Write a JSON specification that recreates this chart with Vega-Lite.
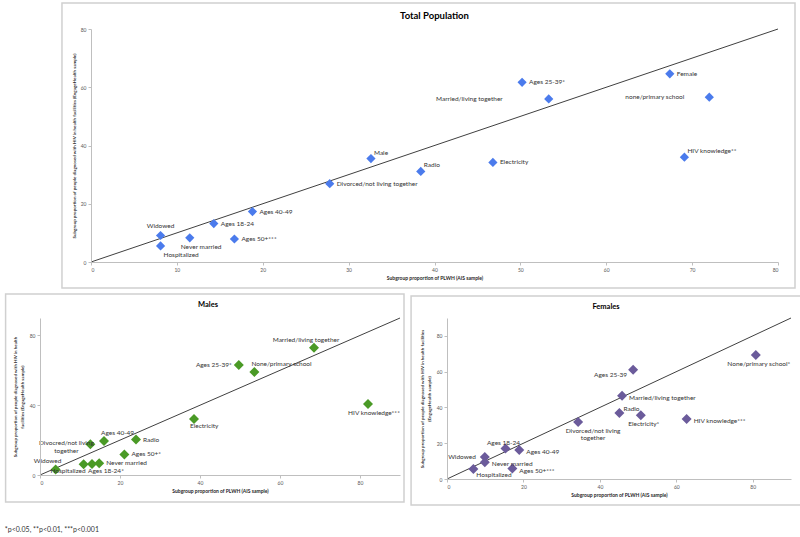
{
  "$schema": "https://vega.github.io/schema/vega-lite/v6.json",
  "background": "white",
  "padding": {"left": 4, "top": 2, "right": 0, "bottom": 0},
  "title": {"text": "*p<0.05, **p<0.01, ***p<0.001", "orient": "bottom", "anchor": "start", "frame": "bounds", "fontSize": 7, "fontWeight": "normal", "font": "Lato", "color": "#333333", "offset": 20},
  "datasets": {
    "total": [
      {"label": "Widowed", "x": 8.1, "y": 9.1, "pos": "a"},
      {"label": "Hospitalized", "x": 8.1, "y": 5.5, "pos": "br"},
      {"label": "Never married", "x": 11.5, "y": 8.3, "pos": "b"},
      {"label": "Ages 18-24", "x": 14.3, "y": 13.2, "pos": "r"},
      {"label": "Ages 50+***", "x": 16.7, "y": 7.9, "pos": "r"},
      {"label": "Ages 40-49", "x": 18.8, "y": 17.3, "pos": "r"},
      {"label": "Divorced/not living together", "x": 27.8, "y": 26.9, "pos": "r"},
      {"label": "Male", "x": 32.6, "y": 35.5, "pos": "ar"},
      {"label": "Radio", "x": 38.4, "y": 31.1, "pos": "ar"},
      {"label": "Electricity", "x": 46.8, "y": 34.2, "pos": "r"},
      {"label": "Ages 25-39*", "x": 50.2, "y": 61.7, "pos": "r"},
      {"label": "Married/living together", "x": 53.3, "y": 56.0, "pos": "lfar"},
      {"label": "Female", "x": 67.4, "y": 64.6, "pos": "r"},
      {"label": "HIV knowledge**", "x": 69.1, "y": 36.0, "pos": "ar"},
      {"label": "none/primary school", "x": 72.0, "y": 56.6, "pos": "lmid"}
    ],
    "males": [
      {"label": "Widowed", "x": 3.9, "y": 3.2, "pos": "a"},
      {"label": "Hospitalized", "x": 10.9, "y": 6.1, "pos": "bl"},
      {"label": "Ages 18-24*", "x": 13.0, "y": 6.3, "pos": "br"},
      {"label": "Never married", "x": 14.8, "y": 6.7, "pos": "r"},
      {"label": "Divocred/not living\ntogether", "x": 12.6, "y": 17.6, "pos": "alc"},
      {"label": "Ages 40-49", "x": 16.0, "y": 19.5, "pos": "ar"},
      {"label": "Radio", "x": 24.0, "y": 20.3, "pos": "r"},
      {"label": "Ages 50+*", "x": 21.1, "y": 11.8, "pos": "r"},
      {"label": "Electricity", "x": 38.5, "y": 32.1, "pos": "br"},
      {"label": "Ages 25-39*", "x": 49.7, "y": 63.1, "pos": "l"},
      {"label": "None/primary school", "x": 53.6, "y": 59.0, "pos": "ar"},
      {"label": "Married/living together", "x": 68.5, "y": 73.0, "pos": "a"},
      {"label": "HIV knowledge***", "x": 82.0, "y": 40.7, "pos": "b"}
    ],
    "females": [
      {"label": "Hospitalized", "x": 6.9, "y": 5.6, "pos": "br"},
      {"label": "Widowed", "x": 9.9, "y": 12.3, "pos": "l"},
      {"label": "Never married", "x": 9.9, "y": 9.3, "pos": "r"},
      {"label": "Ages 18-24", "x": 15.3, "y": 17.0, "pos": "a"},
      {"label": "Ages 40-49", "x": 18.9, "y": 16.2, "pos": "r"},
      {"label": "Ages 50+***", "x": 17.1, "y": 5.8, "pos": "r"},
      {"label": "Divorced/not living\ntogether", "x": 34.3, "y": 31.9, "pos": "bc"},
      {"label": "Radio", "x": 45.1, "y": 36.9, "pos": "ar"},
      {"label": "Married/living together", "x": 45.8, "y": 46.6, "pos": "r"},
      {"label": "Electricity*", "x": 50.7, "y": 35.6, "pos": "b"},
      {"label": "Ages 25-39", "x": 48.7, "y": 61.1, "pos": "bl"},
      {"label": "HIV knowledge***", "x": 62.7, "y": 33.5, "pos": "r"},
      {"label": "None/primary school*", "x": 80.8, "y": 69.3, "pos": "b"}
    ]
  },
  "spacing": 4,
  "vconcat": [
    {
      "spacing": 0,
      "align": "none",
      "hconcat": [
        {"width": 21, "height": 1, "data": {"values": [{"k": 1}]}, "mark": {"type": "point", "opacity": 0}},
        {
          "width": 687, "height": 233,
          "data": {"name": "total"},
          "layer": [
            {"data": {"values": [{"k": 1}]}, "mark": {"type": "rect", "fill": "white", "stroke": "#d0d0d0", "strokeWidth": 1.5},
             "encoding": {
               "x": {"datum": -3.38, "type": "quantitative", "title": "Subgroup proportion of PLWH (AIS sample)", "scale": {"domain": [0, 80], "nice": false}, "axis": {"zindex": 2, "values": [0, 10, 20, 30, 40, 50, 60, 70, 80]}},
               "x2": {"datum": 81.98},
               "y": {"datum": 88.93, "type": "quantitative", "title": "Subgroup proportion of people diagnosed with HIV in health facilities (EngageHealth sample)", "scale": {"domain": [0, 80], "nice": false}, "axis": {"zindex": 2, "values": [0, 10, 20, 30, 40, 50, 60, 70, 80], "titleFontSize": 4.5, "titlePadding": 4}},
               "y2": {"datum": -8.93}}},
            {"data": {"values": [{"k": 1}]}, "mark": {"type": "text", "text": "Total Population", "fontWeight": "bold", "fontSize": 9.5, "color": "#000000", "align": "center", "baseline": "middle"},
             "encoding": {"x": {"datum": 40, "type": "quantitative"}, "y": {"datum": 84.5, "type": "quantitative"}}},
            {"data": {"values": [{"k": 1}]}, "mark": {"type": "rule", "color": "#404040", "strokeWidth": 1},
             "encoding": {"x": {"datum": 0, "type": "quantitative"}, "y": {"datum": 0, "type": "quantitative"}, "x2": {"datum": 80}, "y2": {"datum": 80}}},
            {"mark": {"type": "point", "shape": "diamond", "filled": true, "size": 85, "color": "#4b7bec", "opacity": 1},
             "encoding": {
               "x": {"field": "x", "type": "quantitative", "title": "Subgroup proportion of PLWH (AIS sample)", "scale": {"domain": [0, 80], "nice": false}, "axis": {"zindex": 2, "values": [0, 10, 20, 30, 40, 50, 60, 70, 80]}},
               "y": {"field": "y", "type": "quantitative", "title": "Subgroup proportion of people diagnosed with HIV in health facilities (EngageHealth sample)", "scale": {"domain": [0, 80], "nice": false}, "axis": {"zindex": 2, "values": [0, 10, 20, 30, 40, 50, 60, 70, 80], "titleFontSize": 4.5, "titlePadding": 4}}}},
            {"transform": [{"filter": "datum.pos === 'r'"}], "mark": {"type": "text", "align": "left", "baseline": "middle", "dx": 7},
             "encoding": {"x": {"field": "x", "type": "quantitative", "title": "Subgroup proportion of PLWH (AIS sample)"}, "y": {"field": "y", "type": "quantitative", "title": "Subgroup proportion of people diagnosed with HIV in health facilities (EngageHealth sample)"}, "text": {"field": "label"}}},
            {"transform": [{"filter": "datum.pos === 'a'"}], "mark": {"type": "text", "align": "center", "baseline": "bottom", "dy": -6},
             "encoding": {"x": {"field": "x", "type": "quantitative", "title": "Subgroup proportion of PLWH (AIS sample)"}, "y": {"field": "y", "type": "quantitative", "title": "Subgroup proportion of people diagnosed with HIV in health facilities (EngageHealth sample)"}, "text": {"field": "label"}}},
            {"transform": [{"filter": "datum.pos === 'b'"}], "mark": {"type": "text", "align": "left", "baseline": "top", "dx": -9, "dy": 6},
             "encoding": {"x": {"field": "x", "type": "quantitative", "title": "Subgroup proportion of PLWH (AIS sample)"}, "y": {"field": "y", "type": "quantitative", "title": "Subgroup proportion of people diagnosed with HIV in health facilities (EngageHealth sample)"}, "text": {"field": "label"}}},
            {"transform": [{"filter": "datum.pos === 'ar'"}], "mark": {"type": "text", "align": "left", "baseline": "bottom", "dx": 3, "dy": -3},
             "encoding": {"x": {"field": "x", "type": "quantitative", "title": "Subgroup proportion of PLWH (AIS sample)"}, "y": {"field": "y", "type": "quantitative", "title": "Subgroup proportion of people diagnosed with HIV in health facilities (EngageHealth sample)"}, "text": {"field": "label"}}},
            {"transform": [{"filter": "datum.pos === 'br'"}], "mark": {"type": "text", "align": "left", "baseline": "top", "dx": 3, "dy": 6},
             "encoding": {"x": {"field": "x", "type": "quantitative", "title": "Subgroup proportion of PLWH (AIS sample)"}, "y": {"field": "y", "type": "quantitative", "title": "Subgroup proportion of people diagnosed with HIV in health facilities (EngageHealth sample)"}, "text": {"field": "label"}}},
            {"transform": [{"filter": "datum.pos === 'lfar'"}], "mark": {"type": "text", "align": "right", "baseline": "middle", "dx": -46},
             "encoding": {"x": {"field": "x", "type": "quantitative", "title": "Subgroup proportion of PLWH (AIS sample)"}, "y": {"field": "y", "type": "quantitative", "title": "Subgroup proportion of people diagnosed with HIV in health facilities (EngageHealth sample)"}, "text": {"field": "label"}}},
            {"transform": [{"filter": "datum.pos === 'lmid'"}], "mark": {"type": "text", "align": "right", "baseline": "middle", "dx": -25},
             "encoding": {"x": {"field": "x", "type": "quantitative", "title": "Subgroup proportion of PLWH (AIS sample)"}, "y": {"field": "y", "type": "quantitative", "title": "Subgroup proportion of people diagnosed with HIV in health facilities (EngageHealth sample)"}, "text": {"field": "label"}}}
          ]
        }
      ]
    },
    {
      "spacing": 5,
      "align": "none",
      "hconcat": [
        {
          "width": 360, "height": 157,
          "data": {"name": "males"},
          "layer": [
            {"data": {"values": [{"k": 1}]}, "mark": {"type": "rect", "fill": "white", "stroke": "#d0d0d0", "strokeWidth": 1.5},
             "encoding": {
               "x": {"datum": -8.6, "type": "quantitative", "title": "Subgroup proportion of PLWH (AIS sample)", "scale": {"domain": [0, 90], "nice": false}, "axis": {"zindex": 2, "values": [0, 10, 20, 30, 40, 50, 60, 70, 80, 90]}},
               "x2": {"datum": 91},
               "y": {"datum": 103.8, "type": "quantitative", "title": ["Subgroup proportion of people diagnosed with HIV in health", "facilities (EngageHealth sample)"], "scale": {"domain": [0, 90], "nice": false}, "axis": {"zindex": 2, "values": [0, 10, 20, 30, 40, 50, 60, 70, 80, 90], "titleFontSize": 4.5, "titlePadding": 5}},
               "y2": {"datum": -15.5}}},
            {"data": {"values": [{"k": 1}]}, "mark": {"type": "text", "text": "Males", "fontWeight": "bold", "fontSize": 7.5, "color": "#000000", "align": "center", "baseline": "middle"},
             "encoding": {"x": {"datum": 42, "type": "quantitative"}, "y": {"datum": 97.5, "type": "quantitative"}}},
            {"data": {"values": [{"k": 1}]}, "mark": {"type": "rule", "color": "#404040", "strokeWidth": 1},
             "encoding": {"x": {"datum": 0, "type": "quantitative"}, "y": {"datum": 0, "type": "quantitative"}, "x2": {"datum": 90}, "y2": {"datum": 90}}},
            {"mark": {"type": "point", "shape": "diamond", "filled": true, "size": 100, "color": "#4a9a26", "opacity": 1},
             "encoding": {
               "x": {"field": "x", "type": "quantitative", "title": "Subgroup proportion of PLWH (AIS sample)", "scale": {"domain": [0, 90], "nice": false}, "axis": {"zindex": 2, "values": [0, 10, 20, 30, 40, 50, 60, 70, 80, 90]}},
               "y": {"field": "y", "type": "quantitative", "title": ["Subgroup proportion of people diagnosed with HIV in health", "facilities (EngageHealth sample)"], "scale": {"domain": [0, 90], "nice": false}, "axis": {"zindex": 2, "values": [0, 10, 20, 30, 40, 50, 60, 70, 80, 90], "titleFontSize": 4.5, "titlePadding": 5}}}},
            {"transform": [{"filter": "datum.pos === 'r'"}], "mark": {"type": "text", "align": "left", "baseline": "middle", "dx": 7},
             "encoding": {"x": {"field": "x", "type": "quantitative", "title": "Subgroup proportion of PLWH (AIS sample)"}, "y": {"field": "y", "type": "quantitative", "title": ["Subgroup proportion of people diagnosed with HIV in health", "facilities (EngageHealth sample)"]}, "text": {"field": "label"}}},
            {"transform": [{"filter": "datum.pos === 'l'"}], "mark": {"type": "text", "align": "right", "baseline": "middle", "dx": -7},
             "encoding": {"x": {"field": "x", "type": "quantitative", "title": "Subgroup proportion of PLWH (AIS sample)"}, "y": {"field": "y", "type": "quantitative", "title": ["Subgroup proportion of people diagnosed with HIV in health", "facilities (EngageHealth sample)"]}, "text": {"field": "label"}}},
            {"transform": [{"filter": "datum.pos === 'a'"}], "mark": {"type": "text", "align": "center", "baseline": "bottom", "dx": -8, "dy": -5},
             "encoding": {"x": {"field": "x", "type": "quantitative", "title": "Subgroup proportion of PLWH (AIS sample)"}, "y": {"field": "y", "type": "quantitative", "title": ["Subgroup proportion of people diagnosed with HIV in health", "facilities (EngageHealth sample)"]}, "text": {"field": "label"}}},
            {"transform": [{"filter": "datum.pos === 'b'"}], "mark": {"type": "text", "align": "center", "baseline": "top", "dx": 6, "dy": 6},
             "encoding": {"x": {"field": "x", "type": "quantitative", "title": "Subgroup proportion of PLWH (AIS sample)"}, "y": {"field": "y", "type": "quantitative", "title": ["Subgroup proportion of people diagnosed with HIV in health", "facilities (EngageHealth sample)"]}, "text": {"field": "label"}}},
            {"transform": [{"filter": "datum.pos === 'ar'"}], "mark": {"type": "text", "align": "left", "baseline": "bottom", "dx": -3, "dy": -5},
             "encoding": {"x": {"field": "x", "type": "quantitative", "title": "Subgroup proportion of PLWH (AIS sample)"}, "y": {"field": "y", "type": "quantitative", "title": ["Subgroup proportion of people diagnosed with HIV in health", "facilities (EngageHealth sample)"]}, "text": {"field": "label"}}},
            {"transform": [{"filter": "datum.pos === 'br'"}], "mark": {"type": "text", "align": "left", "baseline": "top", "dx": -4, "dy": 4},
             "encoding": {"x": {"field": "x", "type": "quantitative", "title": "Subgroup proportion of PLWH (AIS sample)"}, "y": {"field": "y", "type": "quantitative", "title": ["Subgroup proportion of people diagnosed with HIV in health", "facilities (EngageHealth sample)"]}, "text": {"field": "label"}}},
            {"transform": [{"filter": "datum.pos === 'bl'"}], "mark": {"type": "text", "align": "right", "baseline": "top", "dx": 2, "dy": 4},
             "encoding": {"x": {"field": "x", "type": "quantitative", "title": "Subgroup proportion of PLWH (AIS sample)"}, "y": {"field": "y", "type": "quantitative", "title": ["Subgroup proportion of people diagnosed with HIV in health", "facilities (EngageHealth sample)"]}, "text": {"field": "label"}}},
            {"transform": [{"filter": "datum.pos === 'alc'"}], "mark": {"type": "text", "align": "center", "baseline": "bottom", "dx": -24, "dy": 2},
             "encoding": {"x": {"field": "x", "type": "quantitative", "title": "Subgroup proportion of PLWH (AIS sample)"}, "y": {"field": "y", "type": "quantitative", "title": ["Subgroup proportion of people diagnosed with HIV in health", "facilities (EngageHealth sample)"]}, "text": {"field": "label"}}}
          ]
        },
        {
          "width": 344, "height": 161,
          "data": {"name": "females"},
          "layer": [
            {"data": {"values": [{"k": 1}]}, "mark": {"type": "rect", "fill": "white", "stroke": "#d0d0d0", "strokeWidth": 1.5},
             "encoding": {
               "x": {"datum": -9.4, "type": "quantitative", "title": "Subgroup proportion of PLWH (AIS sample)", "scale": {"domain": [0, 90], "nice": false}, "axis": {"zindex": 2, "values": [0, 10, 20, 30, 40, 50, 60, 70, 80, 90]}},
               "x2": {"datum": 92.6},
               "y": {"datum": 102.3, "type": "quantitative", "title": ["Subgroup proportion of people diagnosed with HIV in health facilities", "(EngageHealth sample)"], "scale": {"domain": [0, 90], "nice": false}, "axis": {"zindex": 2, "values": [0, 10, 20, 30, 40, 50, 60, 70, 80, 90], "titleFontSize": 4.5, "titlePadding": 5}},
               "y2": {"datum": -14.5}}},
            {"data": {"values": [{"k": 1}]}, "mark": {"type": "text", "text": "Females", "fontWeight": "bold", "fontSize": 7.5, "color": "#000000", "align": "center", "baseline": "middle"},
             "encoding": {"x": {"datum": 41.6, "type": "quantitative"}, "y": {"datum": 96.1, "type": "quantitative"}}},
            {"data": {"values": [{"k": 1}]}, "mark": {"type": "rule", "color": "#404040", "strokeWidth": 1},
             "encoding": {"x": {"datum": 0, "type": "quantitative"}, "y": {"datum": 0, "type": "quantitative"}, "x2": {"datum": 90}, "y2": {"datum": 90}}},
            {"mark": {"type": "point", "shape": "diamond", "filled": true, "size": 100, "color": "#6b5b9b", "opacity": 1},
             "encoding": {
               "x": {"field": "x", "type": "quantitative", "title": "Subgroup proportion of PLWH (AIS sample)", "scale": {"domain": [0, 90], "nice": false}, "axis": {"zindex": 2, "values": [0, 10, 20, 30, 40, 50, 60, 70, 80, 90]}},
               "y": {"field": "y", "type": "quantitative", "title": ["Subgroup proportion of people diagnosed with HIV in health facilities", "(EngageHealth sample)"], "scale": {"domain": [0, 90], "nice": false}, "axis": {"zindex": 2, "values": [0, 10, 20, 30, 40, 50, 60, 70, 80, 90], "titleFontSize": 4.5, "titlePadding": 5}}}},
            {"transform": [{"filter": "datum.pos === 'r'"}], "mark": {"type": "text", "align": "left", "baseline": "middle", "dx": 7, "dy": 2},
             "encoding": {"x": {"field": "x", "type": "quantitative", "title": "Subgroup proportion of PLWH (AIS sample)"}, "y": {"field": "y", "type": "quantitative", "title": ["Subgroup proportion of people diagnosed with HIV in health facilities", "(EngageHealth sample)"]}, "text": {"field": "label"}}},
            {"transform": [{"filter": "datum.pos === 'l'"}], "mark": {"type": "text", "align": "right", "baseline": "middle", "dx": -9},
             "encoding": {"x": {"field": "x", "type": "quantitative", "title": "Subgroup proportion of PLWH (AIS sample)"}, "y": {"field": "y", "type": "quantitative", "title": ["Subgroup proportion of people diagnosed with HIV in health facilities", "(EngageHealth sample)"]}, "text": {"field": "label"}}},
            {"transform": [{"filter": "datum.pos === 'a'"}], "mark": {"type": "text", "align": "center", "baseline": "bottom", "dx": -2, "dy": -3},
             "encoding": {"x": {"field": "x", "type": "quantitative", "title": "Subgroup proportion of PLWH (AIS sample)"}, "y": {"field": "y", "type": "quantitative", "title": ["Subgroup proportion of people diagnosed with HIV in health facilities", "(EngageHealth sample)"]}, "text": {"field": "label"}}},
            {"transform": [{"filter": "datum.pos === 'b'"}], "mark": {"type": "text", "align": "center", "baseline": "top", "dx": 3, "dy": 6},
             "encoding": {"x": {"field": "x", "type": "quantitative", "title": "Subgroup proportion of PLWH (AIS sample)"}, "y": {"field": "y", "type": "quantitative", "title": ["Subgroup proportion of people diagnosed with HIV in health facilities", "(EngageHealth sample)"]}, "text": {"field": "label"}}},
            {"transform": [{"filter": "datum.pos === 'ar'"}], "mark": {"type": "text", "align": "left", "baseline": "bottom", "dx": 4, "dy": -1},
             "encoding": {"x": {"field": "x", "type": "quantitative", "title": "Subgroup proportion of PLWH (AIS sample)"}, "y": {"field": "y", "type": "quantitative", "title": ["Subgroup proportion of people diagnosed with HIV in health facilities", "(EngageHealth sample)"]}, "text": {"field": "label"}}},
            {"transform": [{"filter": "datum.pos === 'br'"}], "mark": {"type": "text", "align": "left", "baseline": "top", "dx": 3, "dy": 3},
             "encoding": {"x": {"field": "x", "type": "quantitative", "title": "Subgroup proportion of PLWH (AIS sample)"}, "y": {"field": "y", "type": "quantitative", "title": ["Subgroup proportion of people diagnosed with HIV in health facilities", "(EngageHealth sample)"]}, "text": {"field": "label"}}},
            {"transform": [{"filter": "datum.pos === 'bl'"}], "mark": {"type": "text", "align": "right", "baseline": "top", "dx": -6, "dy": 2},
             "encoding": {"x": {"field": "x", "type": "quantitative", "title": "Subgroup proportion of PLWH (AIS sample)"}, "y": {"field": "y", "type": "quantitative", "title": ["Subgroup proportion of people diagnosed with HIV in health facilities", "(EngageHealth sample)"]}, "text": {"field": "label"}}},
            {"transform": [{"filter": "datum.pos === 'bc'"}], "mark": {"type": "text", "align": "center", "baseline": "top", "dx": 15, "dy": 6},
             "encoding": {"x": {"field": "x", "type": "quantitative", "title": "Subgroup proportion of PLWH (AIS sample)"}, "y": {"field": "y", "type": "quantitative", "title": ["Subgroup proportion of people diagnosed with HIV in health facilities", "(EngageHealth sample)"]}, "text": {"field": "label"}}}
          ]
        }
      ]
    }
  ],
  "config": {
    "view": {"stroke": null},
    "font": "Lato",
    "text": {"font": "Lato", "fontSize": 6.5, "color": "#333333", "lineBreak": "\n", "lineHeight": 7.5},
    "axis": {"grid": false, "labelOverlap": false, "domainColor": "#bfbfbf", "tickColor": "#bfbfbf", "tickSize": 3, "labelFontSize": 5, "labelColor": "#595959", "labelFont": "Lato", "labelPadding": 2, "titleFont": "Lato", "titleFontSize": 5, "titleFontWeight": "bold", "titleColor": "#262626", "titlePadding": 3}
  }
}
